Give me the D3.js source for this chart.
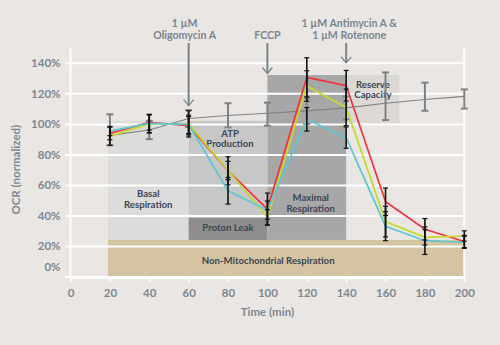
<!DOCTYPE html>
<html>
<head>
<meta charset="utf-8">
<script src="https://cdn.jsdelivr.net/npm/d3@7"></script>
<style>
  html, body { margin: 0; padding: 0; background: #e9e6e3; }
  svg { display: block; font-family: Lato, "Open Sans", sans-serif; }
</style>
</head>
<body>
<svg id="chart" width="500" height="345"></svg>
<script>
// Sampling times (min) and tick labels
const times = [20, 40, 60, 80, 100, 120, 140, 160, 180, 200];
const xTicks = [0, 20, 40, 60, 80, 100, 120, 140, 160, 180, 200];
const yTicks = [0, 20, 40, 60, 80, 100, 120, 140];

// Normalised OCR (%) for the three treated samples, with error half-widths
const redMean    = [93.8, 101, 98.8, 69.3, 44.2, 130.5, 125, 49, 31, 23];
const redErr     = [4.2, 5, 6, 9.2, 10.5, 12.8, 10, 9, 7, 4];
const yellowMean = [92, 100, 100, 69.5, 38.8, 124.8, 110.8, 36, 25.7, 26.6];
const yellowErr  = [6, 6, 8.6, 6, 5, 10, 12, 10, 5, 3.4];
const cyanMean   = [95.3, 100.3, 99.7, 56.2, 43.5, 103, 91, 33, 23.5, 22.5];
const cyanErr    = [3, 6, 6, 8.7, 6, 7.7, 7, 9.5, 9, 4];

// Untreated reference trace with its error bounds
const grayMean = [92.5, 96, 103.5, 105.5, 107, 108.5, 110.5, 113.5, 116, 118];
const grayLow  = [86, 90, 98, 97.7, 98.8, 100, 103, 102.5, 108.6, 110];
const grayHigh = [106.3, 102, 109, 113.5, 113.9, 117, 118, 133.7, 127, 122.6];

// Respiration components shaded behind the traces (time range, OCR range)
const zoneNames = ["Non-Mitochondrial Respiration", "Basal Respiration", "ATP Production",
                   "Proton Leak", "Maximal Respiration", "Reserve Capacity"];
const zoneT0 = [19, 19, 60, 60, 100, 140];
const zoneT1 = [200, 60, 100, 100, 140, 167];
const zoneY0 = [0, 24, 38.5, 24, 24, 100.5];
const zoneY1 = [24, 102, 102, 38.5, 132, 132];
const zoneFill = ["#d5c4a1", "#dcdcdb", "#c7c7c7", "#8e8e8e", "#a7a7a8", "#dcd8d4"];
const zoneLabelLines = [["Non-Mitochondrial Respiration"], ["Basal", "Respiration"], ["ATP", "Production"],
                        ["Proton Leak"], ["Maximal", "Respiration"], ["Reserve", "Capacity"]];
// centre of each label's first line (time, OCR %)
const zoneLabelT = [100.4, 39.5, 81, 80, 122, 153.6];
const zoneLabelY = [10.4, 54.1, 93.8, 32.1, 51.7, 126];

// Compound injections
const injTimes = [60, 100, 140];
const injTip = [112, 133, 140];
const injLabels = [["1 µM", "Oligomycin A"], ["FCCP"], ["1 µM Antimycin A &", "1 µM  Rotenone"]];

const svg = d3.select("#chart");
const x = d3.scaleLinear().domain([0, 200]).range([70.5, 464.3]);
const y = d3.scaleLinear().domain([0, 140]).range([276.6, 62.8]);

// Shaded zones
svg.append("g").selectAll("rect").data(zoneNames).join("rect")
  .attr("x", (d, i) => x(zoneT0[i]))
  .attr("y", (d, i) => y(zoneY1[i]))
  .attr("width", (d, i) => x(zoneT1[i]) - x(zoneT0[i]))
  .attr("height", (d, i) => y(zoneY0[i]) - y(zoneY1[i]))
  .attr("fill", (d, i) => zoneFill[i]);

// Y axis with white gridlines
const yAxis = svg.append("g").attr("transform", `translate(${x(0)},0)`)
  .call(d3.axisLeft(y).tickValues(yTicks).tickFormat(d => d + "%")
    .tickSizeInner(-(x(200) - x(0))).tickSizeOuter(0).tickPadding(10));
yAxis.select(".domain").remove();
yAxis.selectAll(".tick line").attr("x1", -5).attr("stroke", "#fff").attr("stroke-width", 2);
yAxis.selectAll(".tick text").attr("fill", "#7e8891").attr("font-size", 11.5).attr("font-weight", "bold")
  .attr("font-family", "Lato, sans-serif");
yAxis.selectAll(".tick").filter(d => d === 0).select("text").attr("dy", "-0.5em");

// Vertical frame lines
svg.append("g").selectAll("line").data([0, 200]).join("line")
  .attr("x1", d => x(d)).attr("x2", d => x(d))
  .attr("y1", y(150)).attr("y2", y(0))
  .attr("stroke", "#fff").attr("stroke-width", 2);

// X axis
const xAxis = svg.append("g").attr("transform", `translate(0,${y(0) + 1})`)
  .call(d3.axisBottom(x).tickValues(xTicks).tickSizeInner(4).tickSizeOuter(0).tickPadding(7));
xAxis.select(".domain").attr("stroke", "#fff").attr("stroke-width", 2);
xAxis.selectAll(".tick line").attr("stroke", "#fff").attr("stroke-width", 2);
xAxis.selectAll(".tick text").attr("fill", "#7e8891").attr("font-size", 11.5).attr("font-weight", "bold")
  .attr("font-family", "Lato, sans-serif");

// Axis titles
svg.append("text").attr("x", x(100)).attr("y", 316).attr("text-anchor", "middle")
  .attr("fill", "#7e8891").attr("font-size", 11.5).attr("font-weight", "bold").text("Time (min)");
svg.append("text").attr("transform", `translate(20,${y(70)}) rotate(-90)`).attr("text-anchor", "middle")
  .attr("fill", "#7e8891").attr("font-size", 11.5).attr("font-weight", "bold").text("OCR (normalized)");

// Zone labels
const zl = svg.append("g").selectAll("text").data(zoneNames).join("text")
  .attr("x", (d, i) => x(zoneLabelT[i]))
  .attr("y", (d, i) => y(zoneLabelY[i]))
  .attr("text-anchor", "middle").attr("fill", "#3b4653").attr("font-size", 9.6).attr("font-weight", "bold");
zl.each(function(d, i) {
  const lines = zoneLabelLines[i];
  d3.select(this).selectAll("tspan").data(lines).join("tspan")
    .attr("x", x(zoneLabelT[i]))
    .attr("dy", (l, j) => j === 0 ? "0.35em" : "1.12em")
    .text(l => l);
});

// Untreated trace and its error bars
const line = d3.line().x((d, i) => x(times[i])).y(d => y(d));
svg.append("path").datum(grayMean).attr("d", line)
  .attr("fill", "none").attr("stroke", "#7d8286").attr("stroke-width", 1.1);
const gb = svg.append("g").attr("stroke", "#7d8286").attr("stroke-width", 2);
times.forEach((t, i) => {
  gb.append("line").attr("x1", x(t)).attr("x2", x(t)).attr("y1", y(grayLow[i])).attr("y2", y(grayHigh[i]));
  [grayLow[i], grayHigh[i]].forEach(v => gb.append("line")
    .attr("x1", x(t) - 3.5).attr("x2", x(t) + 3.5).attr("y1", y(v)).attr("y2", y(v)));
});

// Treated traces
const series = [
  { mean: redMean, err: redErr, color: "#f0353f" },
  { mean: yellowMean, err: yellowErr, color: "#c5d930" },
  { mean: cyanMean, err: cyanErr, color: "#5ec7d0" }
];
series.forEach(s => {
  svg.append("path").datum(s.mean).attr("d", line)
    .attr("fill", "none").attr("stroke", s.color).attr("stroke-width", 1.7).attr("stroke-linejoin", "miter");
});
const eb = svg.append("g").attr("stroke", "#111").attr("stroke-width", 1.6);
series.forEach(s => {
  times.forEach((t, i) => {
    const lo = s.mean[i] - s.err[i], hi = s.mean[i] + s.err[i];
    eb.append("line").attr("x1", x(t)).attr("x2", x(t)).attr("y1", y(lo)).attr("y2", y(hi));
    [lo, hi].forEach(v => eb.append("line").attr("stroke-width", 1.2)
      .attr("x1", x(t) - 2.5).attr("x2", x(t) + 2.5).attr("y1", y(v)).attr("y2", y(v)));
  });
});

// Injection arrows and labels
const arr = svg.append("g").attr("stroke", "#7b8388").attr("fill", "none").attr("stroke-width", 2);
injTimes.forEach((t, i) => {
  const cx = x(t), tip = y(injTip[i]);
  arr.append("line").attr("x1", cx).attr("x2", cx).attr("y1", 43).attr("y2", tip);
  arr.append("path").attr("stroke-width", 1.3).attr("d", `M${cx - 5},${tip - 6}L${cx},${tip}L${cx + 5},${tip - 6}`);
  const lines = injLabels[i];
  svg.append("g").selectAll("text").data(lines).join("text")
    .attr("x", i === 0 ? cx - 4 : (i === 2 ? cx + 3 : cx))
    .attr("y", (l, j) => 39 - (lines.length - 1 - j) * 12)
    .attr("text-anchor", "middle").attr("fill", "#7b858e").attr("font-size", 10.6).attr("font-weight", "bold")
    .text(l => l);
});
</script>
</body>
</html>
